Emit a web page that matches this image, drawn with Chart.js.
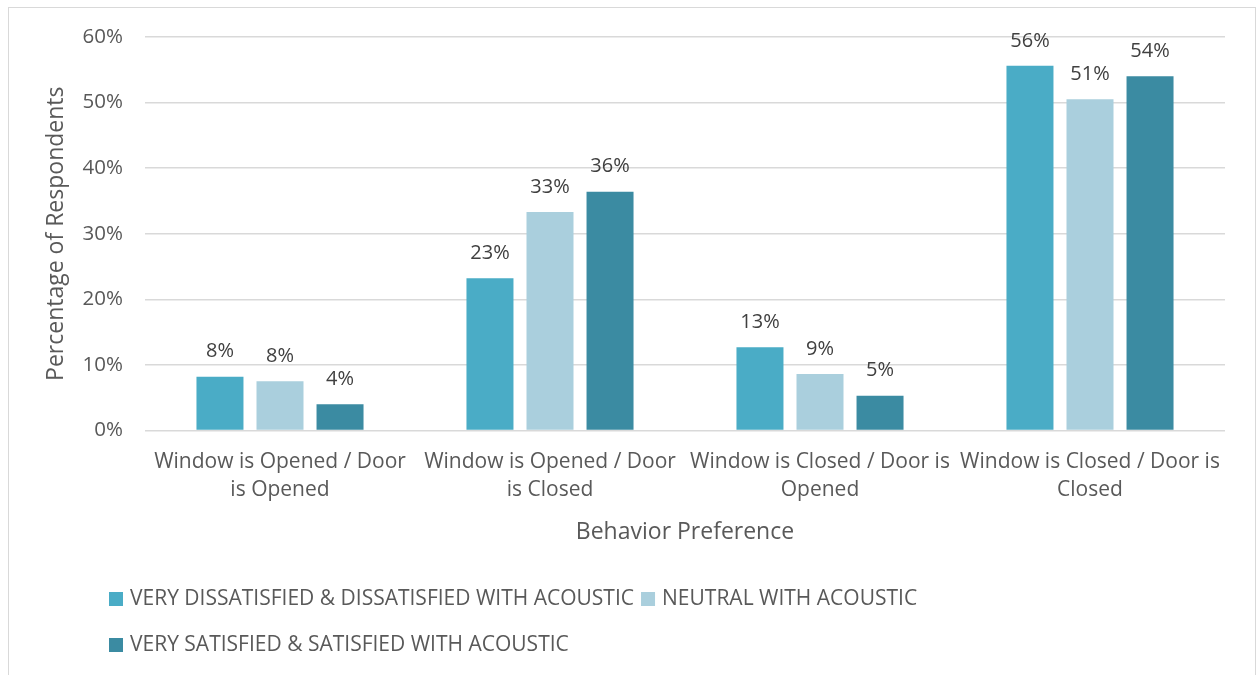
<!DOCTYPE html>
<html>
<head>
<meta charset="utf-8">
<script src="https://cdn.jsdelivr.net/npm/chart.js@4.4.1/dist/chart.umd.min.js"></script>
<style>
  html, body { margin: 0; padding: 0; background: #fff; }
  #wrap { position: relative; width: 1259px; height: 675px; }
  #chart { display: block; }
  #frame { position: absolute; left: 8px; top: 7px; width: 1246px; height: 700px; border: 1px solid #d9d9d9; pointer-events: none; }
</style>
</head>
<body>
<div id="wrap">
  <canvas id="chart" width="1259" height="675"></canvas>
  <div id="frame"></div>
</div>
<script>
// categories (two-line tick labels)
const categories = [
  ['Window is Opened / Door', 'is Opened'],
  ['Window is Opened / Door', 'is Closed'],
  ['Window is Closed / Door is', 'Opened'],
  ['Window is Closed / Door is', 'Closed']
];
const seriesNames = [
  'VERY DISSATISFIED & DISSATISFIED WITH ACOUSTIC',
  'NEUTRAL WITH ACOUSTIC',
  'VERY SATISFIED & SATISFIED WITH ACOUSTIC'
];
const dissatisfied = [8.2, 23.2, 12.7, 55.6];
const neutral = [7.5, 33.3, 8.6, 50.5];
const satisfied = [4.0, 36.4, 5.3, 54.0];
const yTicks = [0, 10, 20, 30, 40, 50, 60];

const colors = ['#4aacc6', '#aacfdd', '#3b8ba2'];
const FONT = '"Open Sans", Arial, sans-serif';
const TEXT = '#595959';

// value labels above each bar
const valueLabels = {
  id: 'valueLabels',
  afterDatasetsDraw(chart) {
    const ctx = chart.ctx;
    ctx.save();
    ctx.font = '20px ' + FONT;
    ctx.fillStyle = '#404040';
    ctx.textAlign = 'center';
    ctx.textBaseline = 'middle';
    chart.data.datasets.forEach((ds, i) => {
      chart.getDatasetMeta(i).data.forEach((bar, j) => {
        ctx.fillText(Math.round(ds.data[j]) + '%', bar.x, bar.y - 25);
      });
    });
    ctx.restore();
  }
};

// legend drawn by hand so it can sit left-aligned under the axis title
const bottomLegend = {
  id: 'bottomLegend',
  afterDraw(chart) {
    const ctx = chart.ctx;
    ctx.save();
    ctx.font = '21px ' + FONT;
    ctx.textBaseline = 'middle';
    ctx.textAlign = 'left';
    let x = 109, y = 599;
    chart.data.datasets.forEach((ds, i) => {
      const w = 21 + ctx.measureText(ds.label).width;
      if (i > 0 && x + w > 1100) { x = 109; y += 46; }
      ctx.fillStyle = ds.backgroundColor;
      ctx.fillRect(x, y - 7, 14, 14);
      ctx.fillStyle = TEXT;
      ctx.fillText(ds.label, x + 21, y);
      x += w + 7;
    });
    ctx.restore();
  }
};

new Chart(document.getElementById('chart'), {
  type: 'bar',
  data: {
    labels: categories,
    datasets: [
      { label: seriesNames[0], data: dissatisfied, backgroundColor: colors[0] },
      { label: seriesNames[1], data: neutral, backgroundColor: colors[1] },
      { label: seriesNames[2], data: satisfied, backgroundColor: colors[2] }
    ]
  },
  options: {
    responsive: false,
    animation: false,
    categoryPercentage: 0.667,
    barPercentage: 0.783,
    layout: { padding: { left: 38, right: 34, top: 37, bottom: 125 } },
    plugins: {
      legend: { display: false },
      tooltip: { enabled: false }
    },
    scales: {
      x: {
        grid: { display: false },
        border: { display: false },
        ticks: { color: TEXT, font: { family: FONT, size: 21, lineHeight: 1.333 }, padding: 10, maxRotation: 0, autoSkip: false },
        title: { display: true, text: 'Behavior Preference', color: TEXT, font: { family: FONT, size: 23 }, padding: { top: 4, bottom: 4 } }
      },
      y: {
        min: 0, max: 60,
        afterBuildTicks: (s) => { s.ticks = yTicks.map(v => ({ value: v })); },
        afterFit: (s) => { s.width = 107; },
        grid: { color: '#d9d9d9', lineWidth: 1.5, drawTicks: false },
        border: { display: false },
        ticks: { color: TEXT, font: { family: FONT, size: 20.5 }, padding: 22, callback: v => v + '%' },
        title: { display: true, text: 'Percentage of Respondents', color: TEXT, font: { family: FONT, size: 23 }, padding: { top: 5, bottom: 0 } }
      }
    }
  },
  plugins: [valueLabels, bottomLegend]
});
</script>
</body>
</html>
